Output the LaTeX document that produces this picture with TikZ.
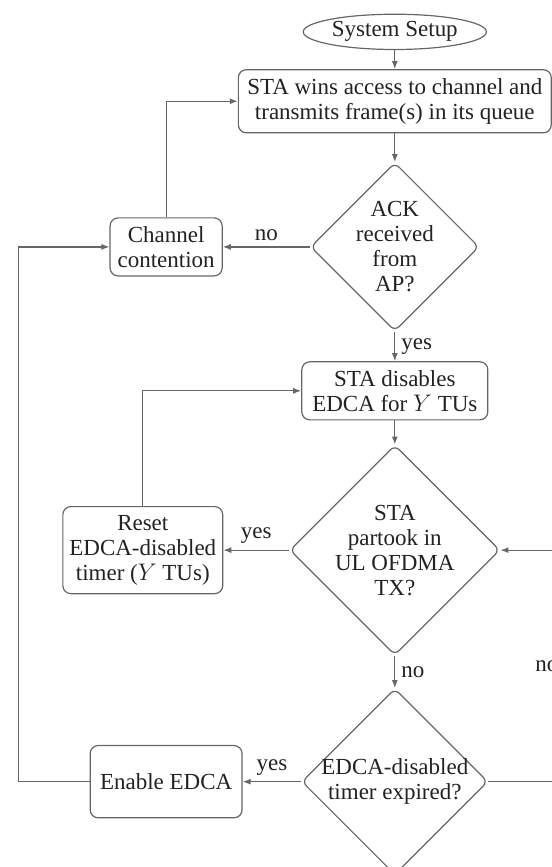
\documentclass[tikz,border=0pt]{standalone}
\usepackage{fontspec}
\setmainfont{Liberation Serif}
\usetikzlibrary{positioning,arrows.meta,shapes.geometric}
\definecolor{flowgray}{HTML}{666666}
\definecolor{ink}{HTML}{222222}

\begin{document}
\begin{tikzpicture}[font=\fontsize{11.5}{12.5}\selectfont,>={Latex[length=4pt,width=3pt]},line width=0.6pt,
  start/.style={draw=flowgray,ellipse,inner sep=0pt,text=ink},
  proc/.style={draw=flowgray,rounded corners=4pt,align=center,inner sep=2pt,text=ink},
  decision/.style={draw=flowgray,diamond,aspect=1,rounded corners=3pt,align=center,inner sep=0pt,text=ink},
  flow/.style={->,draw=flowgray},
  lbl/.style={text=ink,inner sep=3pt}]
\useasboundingbox (0,0) rectangle (9.70,-15.24);
\clip (0,0) rectangle (9.70,-15.24);
% main column
\node[start,minimum width=3.22cm,minimum height=0.62cm] (setup) at (6.94,-0.56) {System Setup};
\node[proc,minimum width=5.50cm,minimum height=1.11cm] (wins) at (6.94,-1.78) {STA wins access to channel and\\transmits frame(s) in its queue};
\node[decision,minimum size=2.85cm] (ack) at (6.94,-4.34) {ACK\\received\\from\\AP?};
\node[proc,minimum width=3.27cm,minimum height=1.02cm] (disable) at (6.94,-6.87) {STA disables\\EDCA for $Y$ TUs};
\node[decision,minimum size=3.62cm] (ulofdma) at (6.94,-9.67) {STA\\partook in\\UL OFDMA\\TX?};
\node[decision,minimum size=3.27cm,inner sep=-1pt] (expired) at (6.94,-13.74) {EDCA-disabled\\timer expired?};
% left column
\node[proc,minimum width=1.97cm,minimum height=1.02cm] (chan) at (2.92,-4.34) {Channel\\contention};
\node[proc,minimum width=2.81cm,minimum height=1.53cm] (reset) at (2.51,-9.67) {Reset\\EDCA-disabled\\timer ($Y$ TUs)};
\node[proc,minimum width=2.67cm,minimum height=1.27cm] (enable) at (2.92,-13.74) {Enable EDCA};
% rails
\coordinate (lrail) at (0.32,0);
\coordinate (rrail) at (9.93,0);
% arrows
\draw[flow] (setup) -- (wins);
\draw[flow] (wins) -- (ack);
\draw[flow] (ack) -- node[lbl,above] {no} (chan);
\draw[flow] (chan.north) |- (wins.west);
\draw[flow] (ack) -- node[lbl,right] {yes} (disable);
\draw[flow] (disable) -- (ulofdma);
\draw[flow] (ulofdma) -- node[lbl,above] {yes} (reset);
\draw[flow] (reset.north) |- (disable.west);
\draw[flow] (ulofdma) -- node[lbl,right] {no} (expired);
\draw[flow] (expired) -- node[lbl,above] {yes} (enable);
\draw[flow] (enable.west) -- (enable.west -| lrail) |- (chan.west);
\draw[flow] (expired.east) -- (expired.east -| rrail) -- node[lbl,left] {no} (ulofdma.east -| rrail) -- (ulofdma.east);
\end{tikzpicture}
\end{document}
